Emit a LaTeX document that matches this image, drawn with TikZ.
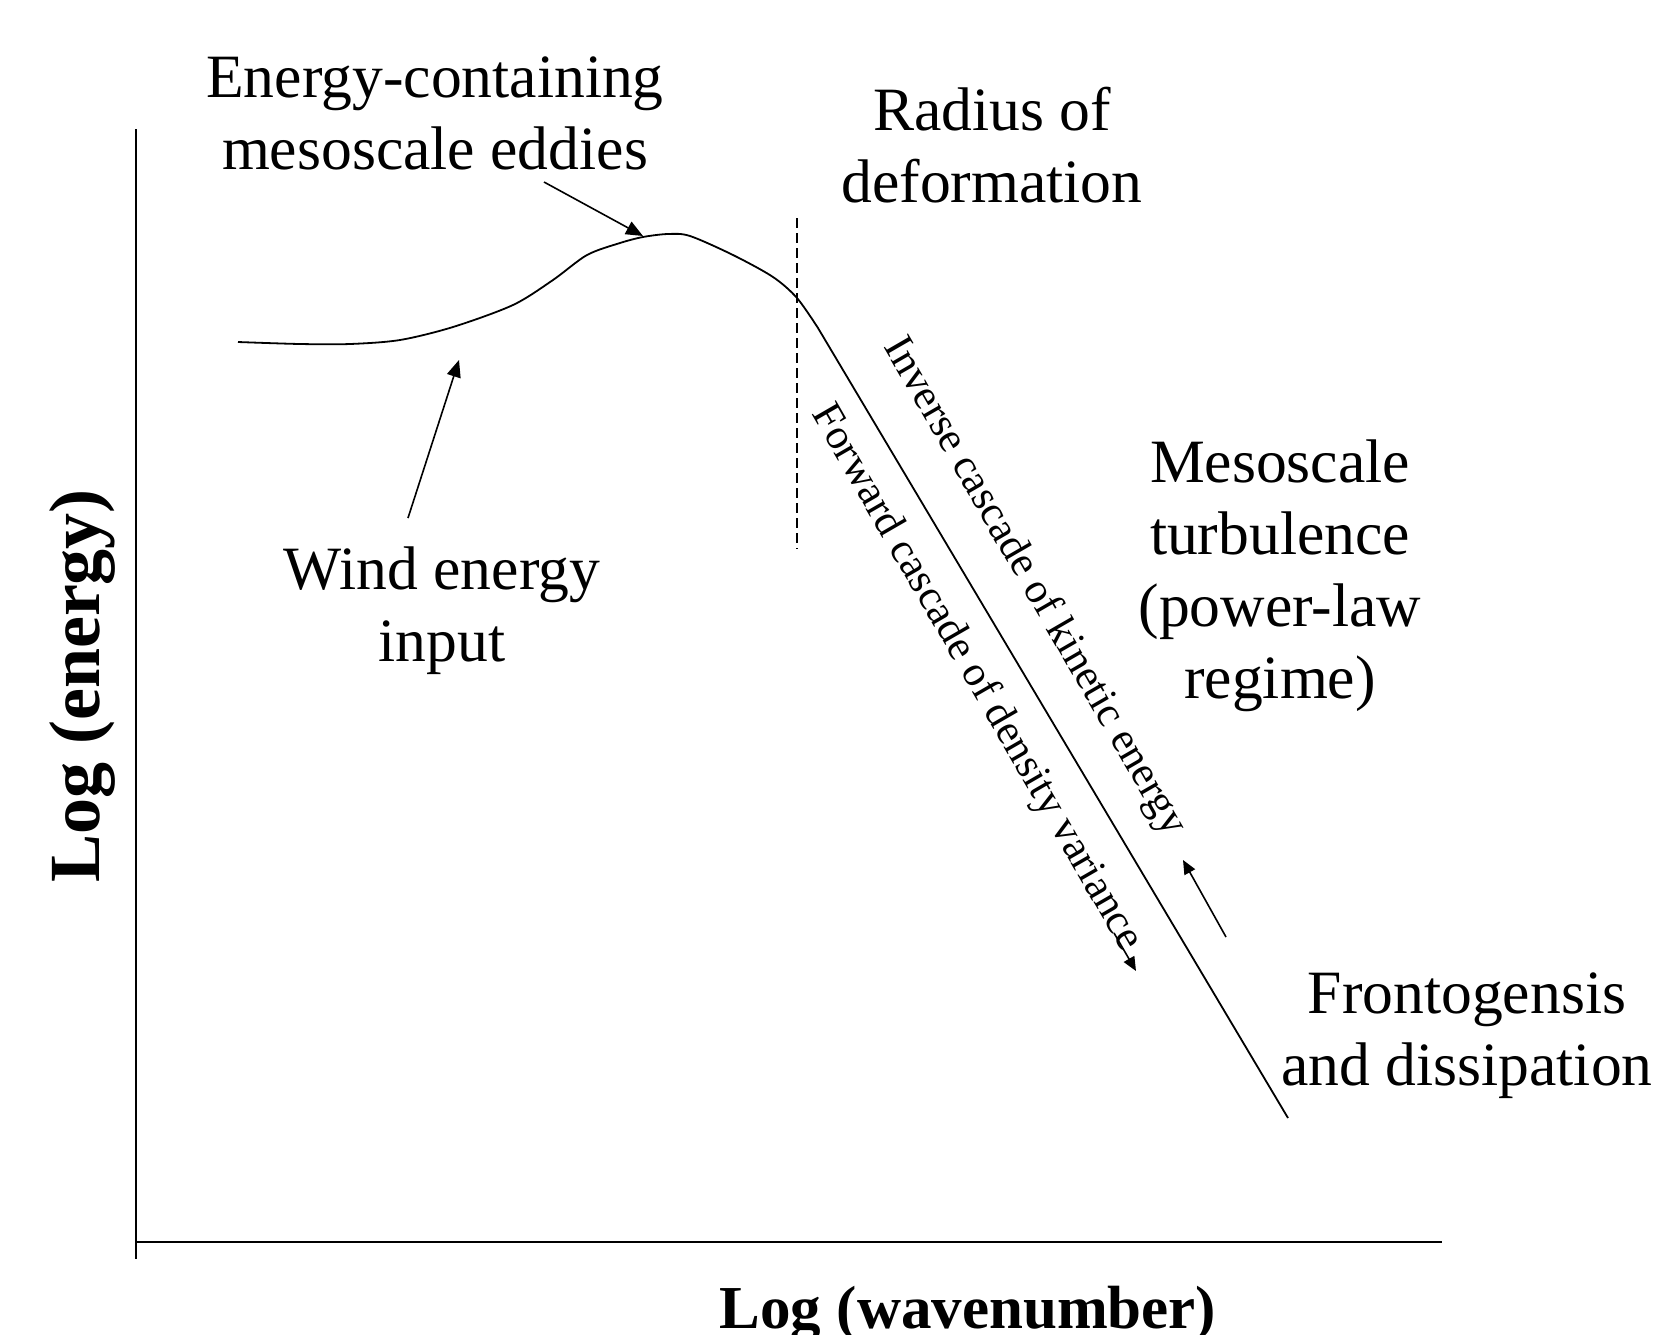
\documentclass[tikz,border=0pt]{standalone}
\usepackage{fontspec}
\setmainfont{Liberation Serif}
\usetikzlibrary{arrows.meta}
\begin{document}
\begin{tikzpicture}[x=0.5pt,y=-0.5pt,
  lbl/.style={font=\fontsize{30.8}{36}\selectfont, align=center, inner sep=0pt},
  rot/.style={font=\fontsize{21.3}{24}\selectfont, inner sep=0pt, rotate=-60},
  axislbl/.style={font=\fontsize{30.5}{34}\selectfont\bfseries, inner sep=0pt},
  axisline/.style={line width=1pt},
  curveline/.style={line width=0.9pt},
  pointer/.style={line width=0.8pt, -{Triangle[length=8.5pt,width=7pt]}},
  smallpointer/.style={line width=0.8pt, -{Triangle[length=7pt,width=6pt]}}]
\useasboundingbox (0,0) rectangle (1655,1334);
% axes
\coordinate (ytop) at (136,129);
\coordinate (ybot) at (136,1259);
\coordinate (xleft) at (136,1242);
\coordinate (xright) at (1442,1242);
\draw[axisline] (ytop) -- (ybot);
\draw[axisline] (xleft) -- (xright);
% axis labels
\node[axislbl, anchor=base] (xlab) at (968,1328) {Log (wavenumber)};
\node[inner sep=0pt, rotate=90, anchor=base, font=\fontsize{36}{40}\selectfont\bfseries] (ylab) at (99,686) {Log (energy)};
% spectrum curve
\coordinate (kink) at (818,328);
\coordinate (lineend) at (1288,1118);
\draw[curveline] plot[smooth] coordinates {(238,342) (300,344) (350,344) (400,340) (453,327) (513,305) (553,280) (587,255) (620,243) (643,237) (668,234) (690,236) (733,255) (773,277) (797,298) (818,328)} -- (lineend);
% radius of deformation marker
\coordinate (dtop) at (797,218);
\coordinate (dbot) at (797,549);
\draw[line width=0.6pt, dash pattern=on 5pt off 2.5pt] (dtop) -- (dbot);
% labels
\node[lbl] (eddies) at (435,113.5) {Energy-containing\\mesoscale eddies};
\node[lbl] (radius) at (992,145.5) {Radius of\\deformation};
\node[lbl] (wind) at (442,611) {Wind energy\\input};
\node[lbl] (meso) at (1280,576) {Mesoscale\\turbulence\\(power-law\\regime)};
\node[lbl] (front) at (1467,1035.5) {Frontogensis\\and dissipation};
\node[rot] (inverse) at (1034,587) {Inverse cascade of kinetic energy};
\node[rot] (forward) at (976,678) {Forward cascade of density variance};
% pointers
\coordinate (eddtail) at (544,182);
\coordinate (eddtip) at (643,236);
\draw[pointer] (eddtail) -- (eddtip);
\coordinate (windtail) at (408,518);
\coordinate (windtip) at (459,360);
\draw[pointer] (windtail) -- (windtip);
\coordinate (invtail) at (1226,937);
\coordinate (invtip) at (1183,860);
\draw[smallpointer] (invtail) -- (invtip);
\coordinate (fwdtail) at (1114,933);
\coordinate (fwdtip) at (1136,971);
\draw[smallpointer] (fwdtail) -- (fwdtip);
\end{tikzpicture}
\end{document}
